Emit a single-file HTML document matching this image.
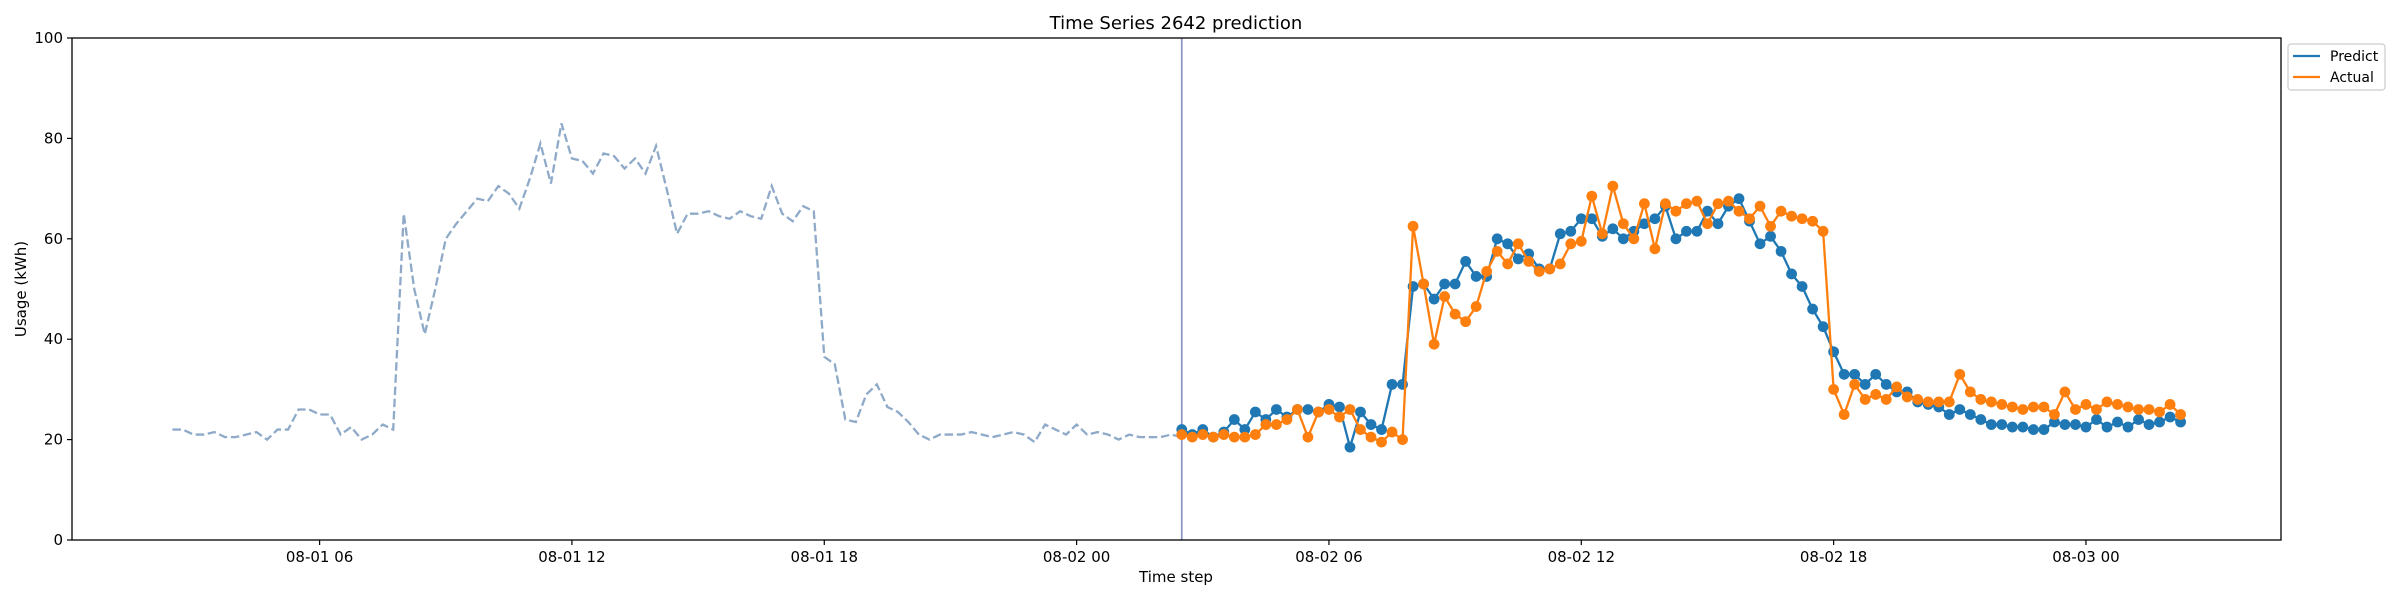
<!DOCTYPE html>
<html><head><meta charset="utf-8"><style>
body{margin:0;background:#fff}
svg{display:block;font-family:"DejaVu Sans","Liberation Sans",sans-serif}
</style></head><body>
<svg id="chart" width="2400" height="600" viewBox="0 0 2400 600">
<rect x="0" y="0" width="2400" height="600" fill="#fff"/>
<text x="1176" y="29" font-size="18" text-anchor="middle">Time Series 2642 prediction</text>
<g id="grid"></g>
<g id="series"></g>
<rect x="72" y="38" width="2209" height="502" fill="none" stroke="#000" stroke-width="1.3"/>
<text x="1176" y="582" font-size="15" text-anchor="middle">Time step</text>
<text x="0" y="0" font-size="15" text-anchor="middle" transform="translate(26,289) rotate(-90)">Usage (kWh)</text>
<g>
<rect x="2288" y="44" width="97" height="46" rx="3" fill="#fff" stroke="#ccc" stroke-width="1.2"/>
<line x1="2293" y1="56" x2="2320" y2="56" stroke="#1f77b4" stroke-width="2.3"/>
<text x="2330" y="61" font-size="14">Predict</text>
<line x1="2293" y1="77" x2="2320" y2="77" stroke="#ff7f0e" stroke-width="2.3"/>
<text x="2330" y="82" font-size="14">Actual</text>
</g>
</svg>
<script>
const history = [22,22,21,21,21.5,20.5,20.5,21,21.5,20,
22,22,26,26,25,25,21,22.5,20,21,
23,22,65,50,41,50,60,63,65.5,68,
67.5,70.5,69,66,72,79,71,83,76,75.5,
73,77,76.5,74,76,73,78.5,70,61,65,
65,65.5,64.5,64,65.5,64.5,64,70.5,65,63.5,
66.5,65.5,36.5,35,24,23.5,29,31,26.5,25.5,
23.5,21,20,21,21,21,21.5,21,20.5,21,
21.5,21,19.5,23,22,21,23,21,21.5,21,
20,21,20.5,20.5,20.5,21,20.5];
const predict = [22,21,22,20.5,21.5,24,22,25.5,24,26,
24.5,26,26,25.5,27,26.5,18.5,25.5,23,22,
31,31,50.5,51,48,51,51,55.5,52.5,52.5,
60,59,56,57,54,54,61,61.5,64,64,
60.5,62,60,61.5,63,64,66.5,60,61.5,61.5,
65.5,63,66.5,68,63.5,59,60.5,57.5,53,50.5,
46,42.5,37.5,33,33,31,33,31,29.5,29.5,
27.5,27,26.5,25,26,25,24,23,23,22.5,
22.5,22,22,23.5,23,23,22.5,24,22.5,23.5,
22.5,24,23,23.5,24.5,23.5];
const actual = [21,20.5,21,20.5,21,20.5,20.5,21,23,23,
24,26,20.5,25.5,26,24.5,26,22,20.5,19.5,
21.5,20,62.5,51,39,48.5,45,43.5,46.5,53.5,
57.5,55,59,55.5,53.5,54,55,59,59.5,68.5,
61,70.5,63,60,67,58,67,65.5,67,67.5,
63,67,67.5,65.5,64,66.5,62.5,65.5,64.5,64,
63.5,61.5,30,25,31,28,29,28,30.5,28.5,
28,27.5,27.5,27.5,33,29.5,28,27.5,27,26.5,
26,26.5,26.5,25,29.5,26,27,26,27.5,27,
26.5,26,26,25.5,27,25];
const xTickIdx = [14,38,62,86,110,134,158,182];
const xTickLabels = ["08-01 06","08-01 12","08-01 18","08-02 00","08-02 06","08-02 12","08-02 18","08-03 00"];
const yTicks = [0,20,40,60,80,100];
const splitIdx = history.length - 1;

const NS = "http://www.w3.org/2000/svg";
const L=72,R=2281,T=38,B=540;
const xMin=-9.55, xMax=200.55;
const xs = i => L + (i - xMin) / (xMax - xMin) * (R - L);
const ys = v => B - v / 100 * (B - T);
function mk(tag, attrs, parent){const e=document.createElementNS(NS,tag);for(const k in attrs)e.setAttribute(k,attrs[k]);parent.appendChild(e);return e;}
const grid=document.getElementById('grid'), ser=document.getElementById('series');

yTicks.forEach(v=>{
  const t=mk('line',{x1:L-5,x2:L,y1:ys(v),y2:ys(v),stroke:'#000','stroke-width':1.2},grid);
  
  
  const lb=mk('text',{x:L-9,y:ys(v)+5,'font-size':15,'text-anchor':'end'},grid);
  lb.textContent=v;
  
  
});
xTickIdx.forEach((idx,k)=>{
  const t=mk('line',{x1:xs(idx),x2:xs(idx),y1:B,y2:B+5,stroke:'#000','stroke-width':1.2},grid);
  
  
  const lb=mk('text',{x:xs(idx),y:B+22,'font-size':15,'text-anchor':'middle'},grid);
  lb.textContent=xTickLabels[k];
  
  
});

const vl=mk('line',{x1:xs(splitIdx),x2:xs(splitIdx),y1:T,y2:B,stroke:'#8f97c4','stroke-width':1.8},ser);



const hp=mk('polyline',{points:history.map((v,i)=>xs(i)+','+ys(v)).join(' '),fill:'none',stroke:'#8eaac8','stroke-width':2.3,'stroke-dasharray':'8.5,3.7'},ser);



function drawSeries(arr,color,name){
  const p=mk('polyline',{points:arr.map((v,i)=>xs(splitIdx+i)+','+ys(v)).join(' '),fill:'none',stroke:color,'stroke-width':2.3},ser);
  
  
  arr.forEach((v,i)=>{
    const c=mk('circle',{cx:xs(splitIdx+i),cy:ys(v),r:5.4,fill:color},ser);
    
    
  });
}
drawSeries(predict,'#1f77b4','predict');
drawSeries(actual,'#ff7f0e','actual');
</script>
</body></html>
